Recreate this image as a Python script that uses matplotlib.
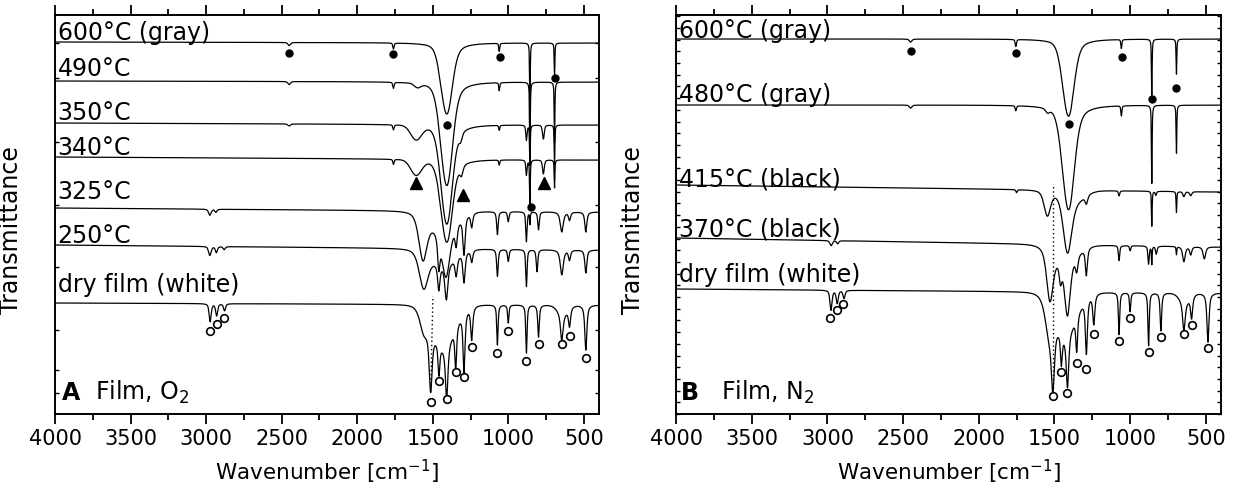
import numpy as np
import matplotlib
matplotlib.use("Agg")
import matplotlib.pyplot as plt
from matplotlib.ticker import MultipleLocator, FixedLocator

plt.rcParams['font.family'] = ['DejaVu Sans']
plt.rcParams['mathtext.default'] = 'regular'

# ---------------- data ----------------
# Each spectrum: baseline at 4000 cm-1, baseline at 400 cm-1 (arbitrary transmittance units),
# and absorption bands as (centre cm-1, depth, half width cm-1, lorentzian fraction)
A_labels = ["600°C (gray)", "490°C", "350°C", "340°C", "325°C", "250°C", "dry film (white)"]
A_base_hi = [372, 333, 291, 257, 206, 169, 111]
A_base_lo = [371, 332, 289, 254, 202, 164, 109]
A_label_y = [374, 338, 294, 259, 215, 171, 122]

A_600 = [(2450, 3, 10, .5), (1760, 6, 5, .5), (1412, 50, 42, 0), (1395, 23, 52, 1),
         (1060, 8, 4, .5), (857, 60, 2.5, .8), (694, 33, 2.5, .8)]
A_490 = [(2450, 3, 10, .5), (1760, 6, 5, .5), (1600, 4, 25, 0), (1412, 73, 44, 0), (1395, 33, 55, 1),
         (1060, 8, 4, .5), (857, 80, 2.5, .8), (694, 60, 2.5, .8)]
A_350 = [(2450, 2, 10, .5), (1760, 5, 5, .5), (1610, 14, 42, 0), (1412, 70, 42, 0), (1395, 32, 52, 1),
         (1315, 7, 12, .5), (1060, 5, 4, .5), (880, 15, 5, .5), (857, 40, 2.5, .8), (768, 14, 7, .5),
         (694, 40, 2.5, .8)]
A_340 = [(1760, 5, 5, .5), (1610, 15, 42, 0), (1412, 58, 42, 0), (1395, 27, 52, 1), (1310, 9, 12, .5),
         (1060, 5, 4, .5), (880, 15, 5, .5), (857, 47, 2.5, .8), (768, 14, 7, .5), (694, 28, 2.5, .8)]
A_325 = [(2975, 6, 10, .5), (2935, 3, 8, .5),
         (1565, 45, 32, .5), (1460, 30, 9, .7), (1412, 45, 30, .5), (1345, 20, 9, .7), (1293, 38, 9, .7),
         (1242, 14, 8, .7), (1430, 20, 90, 0),
         (1072, 23, 6, .7), (1000, 10, 6, .7), (880, 30, 5, .7), (857, 12, 2.5, .8), (800, 18, 6, .7),
         (646, 20, 12, .7), (595, 8, 8, .7), (487, 20, 8, .7)]
A_250 = [(2975, 9, 10, .5), (2932, 6, 8, .5), (2880, 3, 8, .5),
         (1560, 37, 35, .5), (1460, 25, 9, .7), (1410, 35, 12, .7), (1345, 18, 9, .7), (1293, 30, 9, .7),
         (1242, 12, 8, .7), (1430, 15, 90, 0),
         (1072, 27, 6, .7), (1000, 12, 6, .7), (880, 37, 5, .7), (810, 22, 6, .7), (646, 25, 12, .7),
         (595, 10, 8, .7), (487, 23, 8, .7)]
A_dry = [(2973, 18, 8, .6), (2930, 12, 8, .6), (2878, 7, 8, .6),
         (1560, 20, 30, .5), (1514, 62, 12, .8), (1459, 30, 7, .8), (1408, 54, 10, .8), (1348, 42, 7, .8),
         (1293, 60, 8, .8), (1242, 33, 8, .8), (1430, 40, 85, 0),
         (1072, 40, 5, .8), (1000, 18, 5, .8), (880, 48, 5, .8), (800, 32, 6, .8), (646, 28, 10, .8),
         (595, 18, 8, .8), (487, 45, 8, .8), (640, 8, 40, 0)]
A_bands = [A_600, A_490, A_350, A_340, A_325, A_250, A_dry]

B_labels = ["600°C (gray)", "480°C (gray)", "415°C (black)", "370°C (black)", "dry film (white)"]
B_base_hi = [375, 309, 229, 176, 125]
B_base_lo = [375, 309, 222, 167, 121]
B_label_y = [376, 312, 227, 177, 132]

B_600 = [(2450, 3, 10, .5), (1755, 7, 5, .5), (1412, 54, 42, 0), (1395, 25, 52, 1),
         (1058, 9, 4, .5), (857, 56, 2.5, .8), (694, 35, 2.5, .8)]
B_480 = [(2450, 3, 10, .5), (1755, 5, 5, .5), (1545, 4, 15, .5), (1412, 72, 44, 0), (1395, 35, 55, 1),
         (1058, 10, 4, .5), (857, 78, 2.5, .8), (694, 48, 2.5, .8)]
B_415 = [(1750, 3, 5, .5), (1547, 25, 25, .5), (1414, 52, 32, .3), (1380, 12, 80, 0), (1289, 8, 10, .6),
         (1073, 5, 5, .6), (857, 35, 2.5, .8), (830, 4, 5, .6), (694, 21, 2.5, .8), (645, 5, 8, .6),
         (600, 4, 8, .6)]
B_370 = [(2975, 5, 10, .5), (2932, 3, 8, .5),
         (1530, 50, 25, .5), (1460, 18, 10, .6), (1414, 55, 22, .5), (1353, 15, 10, .6), (1289, 27, 8, .7),
         (1430, 15, 90, 0),
         (1073, 15, 5, .7), (1000, 5, 5, .7), (878, 18, 5, .7), (857, 18, 2.5, .8), (827, 8, 6, .7),
         (694, 8, 2.5, .8), (645, 15, 10, .7), (600, 8, 8, .7), (510, 12, 10, .7)]
B_dry = [(2976, 20, 8, .6), (2935, 13, 8, .6), (2890, 8, 8, .6),
         (1535, 30, 30, .5), (1510, 62, 12, .8), (1454, 30, 7, .8), (1414, 54, 10, .8), (1353, 35, 7, .8),
         (1289, 55, 8, .8), (1240, 30, 8, .8), (1430, 40, 85, 0),
         (1073, 42, 5, .8), (1000, 19, 5, .8), (878, 53, 5, .8), (797, 38, 6, .8), (645, 30, 10, .8),
         (594, 22, 8, .8), (486, 49, 8, .8), (640, 8, 40, 0)]
B_bands = [B_600, B_480, B_415, B_370, B_dry]

# markers
A_dot_wn = [2452, 1760, 1057, 692, 1408, 851]
A_dot_y = [361, 360, 357, 336, 289, 207]
A_tri_wn = [1614, 1302, 767]
A_tri_y = [231, 219, 231]
A_circ_wn = [2971, 2929, 2884, 1514, 1459, 1408, 1348, 1293, 1242, 1072, 1000, 880, 800, 646, 595, 487]
A_circ_y = [83, 90, 96, 12, 33, 15, 42, 37, 67, 61, 83, 53, 70, 70, 78, 56]
A_dotted_wn = [1514, 1499]
A_dotted_y = [22, 118]

B_dot_wn = [2450, 1754, 1055, 858, 694, 1403]
B_dot_y = [363, 361, 357, 315, 326, 290]
B_circ_wn = [2980, 2938, 2894, 1510, 1454, 1414, 1353, 1289, 1240, 1073, 1000, 878, 797, 645, 594, 486]
B_circ_y = [96, 104, 110, 18, 42, 21, 51, 45, 80, 73, 96, 62, 77, 80, 89, 66]
B_dotted_wn = [1512, 1512]
B_dotted_y = [26, 229]

A_yticks = [371, 336, 272, 209, 147, 84, 44, 21]

# ---------------- drawing ----------------
wn = np.arange(400.0, 4000.01, 0.5)


def spectrum(b_hi, b_lo, bands):
    y = b_hi + (b_lo - b_hi) * (4000 - wn) / 3600.0
    for c, d, w, eta in bands:
        u = ((wn - c) / w) ** 2
        y = y - d * (eta / (1 + u) + (1 - eta) * np.exp(-np.log(2) * u))
    return y


fig = plt.figure(figsize=(12.39, 4.99), dpi=100)
axA = fig.add_axes([55 / 1239, 85 / 499, 544 / 1239, 399 / 499])
axB = fig.add_axes([676 / 1239, 85 / 499, 545 / 1239, 399 / 499])

LW = 0.9
for ax in (axA, axB):
    ax.set_xlim(4000, 400)
    ax.set_ylim(0, 399)
    ax.xaxis.set_major_locator(FixedLocator(np.arange(4000, 499, -500)))
    ax.xaxis.set_minor_locator(MultipleLocator(250))
    ax.tick_params(axis='x', which='both', direction='out', top=True, bottom=True,
                   labelsize=15, width=1.3, pad=4)
    ax.tick_params(axis='x', which='major', length=7)
    ax.tick_params(axis='x', which='minor', length=4)
    ax.tick_params(axis='y', which='both', direction='in', left=True, right=True,
                   labelleft=False, length=3, width=1.0)
    for s in ax.spines.values():
        s.set_linewidth(1.4)
    ax.set_xlabel('Wavenumber [cm$^{-1}$]', fontsize=15.5, labelpad=6)
    ax.set_ylabel('Transmittance', fontsize=17)

axA.yaxis.set_major_locator(FixedLocator(A_yticks))
axB.yaxis.set_major_locator(MultipleLocator(11.7))
axA.yaxis.set_label_coords(-0.059, 0.46)
axB.yaxis.set_label_coords(-0.057, 0.46)

for lab, bh, bl, ly, bands in zip(A_labels, A_base_hi, A_base_lo, A_label_y, A_bands):
    axA.plot(wn, spectrum(bh, bl, bands), color='black', lw=LW)
    axA.text(3982, ly, lab, fontsize=17, va='baseline', ha='left')
for lab, bh, bl, ly, bands in zip(B_labels, B_base_hi, B_base_lo, B_label_y, B_bands):
    axB.plot(wn, spectrum(bh, bl, bands), color='black', lw=LW)
    axB.text(3982, ly, lab, fontsize=17, va='baseline', ha='left')

for ax, dwn, dy, cwn, cy, lwn, ly in ((axA, A_dot_wn, A_dot_y, A_circ_wn, A_circ_y, A_dotted_wn, A_dotted_y),
                                       (axB, B_dot_wn, B_dot_y, B_circ_wn, B_circ_y, B_dotted_wn, B_dotted_y)):
    ax.plot(dwn, dy, 'o', color='black', ms=5, ls='none')
    ax.plot(cwn, cy, 'o', mfc='white', mec='black', mew=1.2, ms=5.5, ls='none')
    ax.plot(lwn, ly, color='black', lw=1.0, ls=(0, (1, 2)))
axA.plot(A_tri_wn, A_tri_y, '^', color='black', ms=9, ls='none')

axA.text(3955, 14, 'A', fontsize=17, fontweight='bold', va='baseline')
axA.text(3735, 14, 'Film, O$_2$', fontsize=17, va='baseline')
axB.text(3968, 14, 'B', fontsize=17, fontweight='bold', va='baseline')
axB.text(3700, 14, 'Film, N$_2$', fontsize=17, va='baseline')

fig.savefig('out.png', dpi=100)
